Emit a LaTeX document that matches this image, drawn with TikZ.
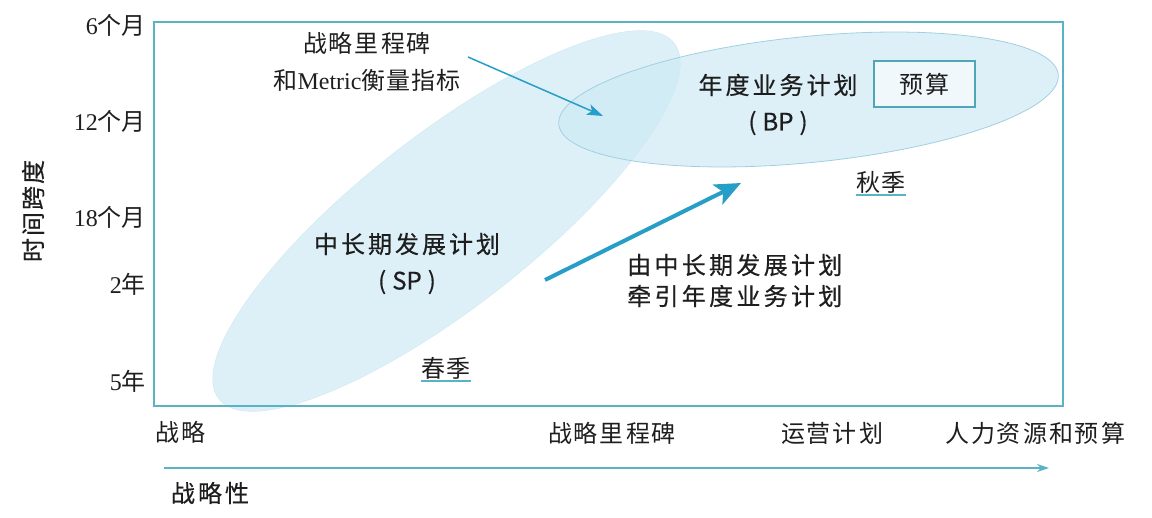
\documentclass[tikz,border=0pt]{standalone}
\usepackage{fontspec}
\setmainfont{Liberation Serif}
\newfontfamily\cjk{Noto Sans CJK SC}
\newfontfamily\cjkm[FakeBold=0.5]{Noto Sans CJK SC}
\usetikzlibrary{shapes.geometric,arrows.meta}
\definecolor{ink}{RGB}{30,30,30}
\definecolor{framec}{RGB}{90,178,196}
\definecolor{ellfill}{RGB}{206,234,245}
\definecolor{ellline}{RGB}{160,208,224}
\definecolor{arrowc}{RGB}{38,158,198}
\definecolor{tipc}{RGB}{24,164,214}
\definecolor{boxc}{RGB}{80,165,182}
\definecolor{boxfill}{RGB}{240,248,251}
\makeatletter
\newcommand\trk[2]{\def\trk@k{}\@tfor\trk@c:=#2\do{\trk@k\trk@c\def\trk@k{\kern#1}}}
\makeatother
\tikzset{
  lab/.style={font=\cjkm\fontsize{24pt}{28pt}\selectfont, text=ink, inner sep=0pt},
  ser/.style={font=\fontsize{24pt}{28pt}\selectfont, text=ink, inner sep=0pt},
  ell/.style={ellipse, fill=ellfill, fill opacity=0.7, inner sep=0pt},
  thinarrow/.style={draw=arrowc, line width=1.5pt, -{Stealth[length=16pt,width=11pt,inset=4pt,fill=tipc]}},
  thickarrow/.style={draw=arrowc, line width=4pt, -{Stealth[length=26pt,width=22pt,inset=6pt,fill=tipc]}},
  axisarrow/.style={draw=framec, line width=1.8pt, -{Stealth[length=12pt,width=8pt,fill=tipc]}},
  ul/.style={draw=framec, line width=1.5pt}
}
\begin{document}
\begin{tikzpicture}[x=1pt,y=-1pt]
\useasboundingbox (0,0) rectangle (1152,518);
% ellipses
\node[ell, draw=ellline, draw opacity=0.35, minimum width=578pt, minimum height=172pt, rotate=38] (sp) at (446.5,221) {};
\node[ell, draw=ellline, line width=0.8pt, minimum width=502pt, minimum height=126pt, rotate=5.7] (bp) at (808.5,99.5) {};
% frame
\node[draw=framec, line width=1.5pt, minimum width=909pt, minimum height=384pt, inner sep=0pt] (frame) at (608.5,214) {};
% y labels
\node[ser, anchor=east] (y1) at (146,25) {6{\cjk 个月}};
\node[ser, anchor=east] (y2) at (146,121) {12{\cjk 个月}};
\node[ser, anchor=east] (y3) at (146,217) {18{\cjk 个月}};
\node[ser, anchor=east] (y4) at (146,284) {2{\cjk 年}};
\node[ser, anchor=east] (y5) at (146,381) {5{\cjk 年}};
\node[lab, rotate=90] (yt) at (33,211) {\trk{2pt}{时间跨度}};
% x labels
\node[ser, anchor=west] (x1) at (155,432) {\cjk\trk{2pt}{战略}};
\node[ser] (x2) at (612,433) {\cjk\trk{2pt}{战略里程碑}};
\node[ser] (x3) at (832,433) {\cjk\trk{2pt}{运营计划}};
\node[ser] (x4) at (1035,433) {\cjk\trk{2pt}{人力资源和预算}};
\node[lab] (xt) at (210,493) {\trk{3pt}{战略性}};
% axis arrow
\coordinate (ax0) at (164,468);
\coordinate (ax1) at (1049,468);
\draw[axisarrow] (ax0) -- (ax1);
% inner texts
\node[lab] (bpt) at (778,85) {\trk{3pt}{年度业务计划}};
\node[lab] (bpa) at (778,123) {(\kern6pt BP\kern6pt)};
\node[draw=boxc, line width=1.2pt, fill=boxfill, minimum width=101pt, minimum height=46pt, inner sep=0pt, font=\cjk\fontsize{24pt}{28pt}\selectfont, text=ink] (bud) at (924.5,84) {\trk{2pt}{预算}};
\node[lab] (spt) at (407,244) {\trk{3pt}{中长期发展计划}};
\node[lab] (spa) at (407,282) {(\kern6pt SP\kern6pt)};
\node[ser] (mil1) at (367,43) {\cjk\trk{2pt}{战略里程碑}};
\node[ser] (mil2) at (367,80) {{\cjk 和}Metric{\cjk\trk{1pt}{衡量指标}}};
\node[lab, anchor=west] (lead1) at (627,265) {\trk{3.3pt}{由中长期发展计划}};
\node[lab, anchor=west] (lead2) at (627,296) {\trk{3.3pt}{牵引年度业务计划}};
\node[ser] (aut) at (881,182) {\cjk\trk{1pt}{秋季}};
\draw[ul] ([yshift=-2pt]aut.south west) -- ([yshift=-2pt]aut.south east);
\node[ser] (spr) at (446,368) {\cjk\trk{1pt}{春季}};
\draw[ul] ([yshift=-2pt]spr.south west) -- ([yshift=-2pt]spr.south east);
% arrows
\coordinate (ms) at (468,57);
\coordinate (mt) at (603,116);
\draw[thinarrow] (ms) -- (mt);
\coordinate (ps) at (545,280);
\coordinate (pt) at (741,183);
\draw[thickarrow] (ps) -- (pt);
\end{tikzpicture}
\end{document}
